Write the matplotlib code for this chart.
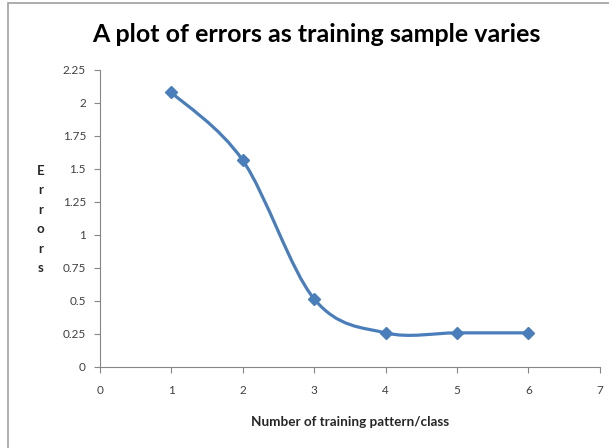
from matplotlib import pyplot as plt
from matplotlib.path import Path
from matplotlib.patches import PathPatch, Rectangle
import numpy as np

# training patterns per class and the errors
patterns = [1, 2, 3, 4, 5, 6]
errors = [2.08, 1.565, 0.515, 0.258, 0.258, 0.258]

x_ticks = [0, 1, 2, 3, 4, 5, 6, 7]
y_ticks = [0, 0.25, 0.5, 0.75, 1, 1.25, 1.5, 1.75, 2, 2.25]
y_tick_labels = ['0', '0.25', '0.5', '0.75', '1', '1.25', '1.5', '1.75', '2', '2.25']

blue = '#4a7ebb'
grey = '#868686'


def smooth_path(xs, ys):
    '''Excel-like smoothed line: cubic Bezier segments through every point.'''
    pts = np.column_stack([xs, ys]).astype(float)
    n = len(pts)
    verts = [pts[0]]
    codes = [Path.MOVETO]
    for i in range(n - 1):
        p_prev = pts[i - 1] if i > 0 else pts[i]
        p_next = pts[i + 2] if i + 2 < n else pts[i + 1]
        c1 = pts[i] + (pts[i + 1] - p_prev) / 6
        c2 = pts[i + 1] - (p_next - pts[i]) / 6
        verts += [c1, c2, pts[i + 1]]
        codes += [Path.CURVE4] * 3
    return Path(verts, codes)


plt.rcParams['font.family'] = ['Lato', 'DejaVu Sans']

fig = plt.figure(figsize=(6.09, 4.48), dpi=100)
ax = fig.add_axes([0.164, 0.181, 0.821, 0.663])

ax.add_patch(PathPatch(smooth_path(patterns, errors), facecolor='none',
                       edgecolor=blue, lw=2.3, zorder=3))
ax.plot(patterns, errors, linestyle='none', marker='D', markersize=6.5,
        color=blue, zorder=4)

ax.set_xlim(0, 7)
ax.set_ylim(0, 2.25)
ax.set_xticks(x_ticks)
ax.set_yticks(y_ticks)
ax.set_yticklabels(y_tick_labels)
ax.tick_params(direction='out', length=4, width=0.8, color=grey,
               labelsize=8.5, labelcolor='#404040', pad=6)
ax.tick_params(axis='x', pad=9)
for side in ['top', 'right']:
    ax.spines[side].set_visible(False)
for side in ['left', 'bottom']:
    ax.spines[side].set_color(grey)
    ax.spines[side].set_linewidth(0.8)

fig.text(0.52, 0.922, 'A plot of errors as training sample varies',
         ha='center', va='center', fontsize=18, fontweight='bold')
fig.text(0.575, 0.058, 'Number of training pattern/class', ha='center',
         va='center', fontsize=9.7, fontweight='bold', color='#262626')
fig.text(0.066, 0.51, 'E\nr\nr\no\nr\ns', ha='center', va='center',
         fontsize=9.5, fontweight='bold', color='#262626', linespacing=1.75)

# thin grey frame around the chart area, like the original
fig.patches.append(Rectangle((0.013, -0.01), 1.1, 1.003, transform=fig.transFigure,
                             fill=False, edgecolor='#a0a0a0', lw=1.2))

fig.savefig('out.png', dpi=100)
